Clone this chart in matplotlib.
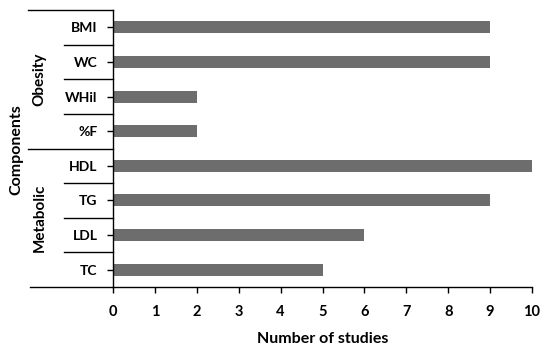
import matplotlib
matplotlib.use("Agg")
import matplotlib.pyplot as plt

components = ["BMI", "WC", "WHil", "%F", "HDL", "TG", "LDL", "TC"]
studies = [9, 9, 2, 2, 10, 9, 6, 5]
groups = ["Obesity", "Metabolic"]
group_sizes = [4, 4]
xticks = list(range(0, 11))

plt.rcParams["font.family"] = ["Lato", "DejaVu Sans"]
plt.rcParams["font.weight"] = "bold"

fig = plt.figure(figsize=(5.5, 3.47), dpi=100)
ax = fig.add_axes([113 / 550, 60 / 347, 419 / 550, 277 / 347])

ypos = list(range(len(components)))
ax.barh(ypos, studies, height=0.35, color="#6d6d6d")
ax.set_ylim(len(components) - 0.5, -0.5)
ax.set_xlim(0, 10)
ax.set_xticks(xticks)
ax.set_xticklabels([str(t) for t in xticks], fontsize=10.5, fontweight="bold")
ax.set_yticks(ypos)
ax.set_yticklabels(components, fontsize=10, fontweight="bold")
ax.tick_params(axis="both", direction="out", length=4, width=1)
ax.tick_params(axis="y", pad=7)
ax.tick_params(axis="x", pad=9)
ax.set_xlabel("Number of studies", fontsize=11.5, fontweight="bold", labelpad=9)

for s in ["top", "right"]:
    ax.spines[s].set_visible(False)
for s in ["left", "bottom"]:
    ax.spines[s].set_linewidth(1)

tr = ax.get_yaxis_transform()
# bottom and top lines extending left
ax.plot([-0.198, 0], [len(components) - 0.5] * 2, color="black", lw=1, transform=tr, clip_on=False)
ax.plot([-0.203, 0], [-0.5, -0.5], color="black", lw=1, transform=tr, clip_on=False)

# separators within groups and between groups
start = 0
for gi, (g, n) in enumerate(zip(groups, group_sizes)):
    for k in range(1, n):
        y = start + k - 0.5
        ax.plot([-0.117, 0], [y, y], color="black", lw=1, transform=tr, clip_on=False)
    end = start + n
    if gi < len(groups) - 1:
        ax.plot([-0.203, 0], [end - 0.5, end - 0.5], color="black", lw=1, transform=tr, clip_on=False)
    ax.text(-0.175, (start + end - 1) / 2, g, rotation=90, ha="center", va="center",
            fontsize=11, fontweight="bold", transform=tr)
    start = end

fig.text(16 / 550, 1 - 150 / 347, "Components", rotation=90, ha="center", va="center",
         fontsize=11.5, fontweight="bold")

fig.savefig("out.png", dpi=100)
